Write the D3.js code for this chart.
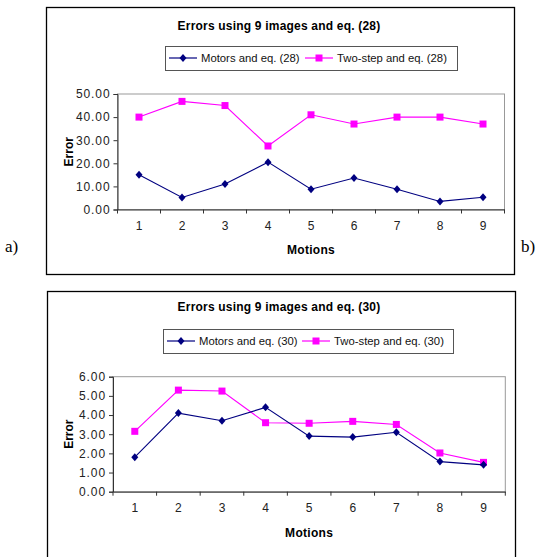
<!DOCTYPE html>
<html><head><meta charset="utf-8">
<script src="https://cdn.jsdelivr.net/npm/d3@7"></script>
<style>body{margin:0;background:#fff;}svg{display:block;}</style>
</head><body>
<svg id="c" width="553" height="557"></svg>
<script>
const motions = [1,2,3,4,5,6,7,8,9];
const yTicksA = [0,10,20,30,40,50];
const yTicksB = [0,1,2,3,4,5,6];
const motors28 = [15.0,5.2,11.0,20.5,8.8,13.6,8.8,3.5,5.3];
const twostep28 = [40.0,46.8,45.0,27.5,41.0,37.0,40.0,40.0,37.0];
const motors30 = [1.8,4.1,3.7,4.4,2.9,2.85,3.1,1.57,1.4];
const twostep30 = [3.15,5.3,5.25,3.6,3.57,3.67,3.51,2.02,1.53];

const svg = d3.select('#c');
const NAVY = '#000080', MAG = '#ff00ff';
const FF = 'Arial, Liberation Sans, sans-serif';

function chart(o){
  const g = svg.append('g');
  g.append('rect').attr('x',o.box[0]+0.5).attr('y',o.box[1]+0.5)
    .attr('width',o.box[2]-o.box[0]).attr('height',o.box[3]-o.box[1])
    .attr('fill','#fff').attr('stroke','#000').attr('stroke-width',1.3);
  g.append('text').attr('x',o.titleX).attr('y',o.titleY).attr('text-anchor','middle')
    .attr('font-family',FF).attr('font-weight','bold')
    .attr('font-size',12).attr('letter-spacing','0.2px').text(o.title);
  // legend
  const L = o.legend;
  g.append('rect').attr('x',L[0]+0.5).attr('y',L[1]+0.5).attr('width',L[2]-L[0]).attr('height',L[3]-L[1])
    .attr('fill','#fff').attr('stroke','#555').attr('stroke-width',1);
  const ly = (L[1]+L[3])/2;
  const items = [{c:NAVY,t:o.names[0],m:'d',x0:L[0]+4},{c:MAG,t:o.names[1],m:'s',x0:o.leg2x}];
  items.forEach(it=>{
    g.append('line').attr('x1',it.x0).attr('x2',it.x0+28).attr('y1',ly).attr('y2',ly).attr('stroke',it.c).attr('stroke-width',1.2);
    marker(g,it.x0+14,ly,it.m,it.c);
    g.append('text').attr('x',it.x0+32).attr('y',ly+4).attr('font-family',FF)
      .attr('font-size',11.3).attr('fill','#111').text(it.t);
  });
  const x = d3.scaleBand().domain(motions).range([o.plot[0],o.plot[2]]);
  const y = d3.scaleLinear().domain([0,o.ymax]).range([o.plot[3],o.plot[1]]);
  // plot area border
  g.append('rect').attr('x',o.plot[0]).attr('y',o.plot[1]).attr('width',o.plot[2]-o.plot[0]).attr('height',o.plot[3]-o.plot[1])
    .attr('fill','#fff').attr('stroke','#999').attr('stroke-width',1);
  // y axis
  const ya = g.append('g').attr('transform',`translate(${o.plot[0]},0)`)
    .call(d3.axisLeft(y).tickValues(o.yticks).tickSize(4).tickPadding(3).tickFormat(d3.format('.2f')));
  ya.select('.domain').attr('stroke','#333');
  ya.selectAll('.tick line').attr('stroke','#333');
  ya.selectAll('text').attr('font-family',FF).attr('font-size',12).attr('fill','#222')
    .attr('letter-spacing','0.9px');
  // x axis
  const xa = g.append('g').attr('transform',`translate(0,${o.plot[3]})`)
    .call(d3.axisBottom(x).tickSize(0).tickPadding(12));
  xa.select('.domain').attr('stroke','#333');
  xa.selectAll('text').attr('font-family',FF).attr('font-size',12).attr('fill','#222');
  const bounds = motions.map(m=>x(m)).concat([o.plot[2]]);
  xa.selectAll('.sep').data(bounds).enter().append('line').attr('class','sep')
    .attr('x1',d=>d).attr('x2',d=>d).attr('y1',0).attr('y2',4).attr('stroke','#333');
  // axis titles
  g.append('text').attr('transform',`translate(${o.yTitleX},${(o.plot[1]+o.plot[3])/2}) rotate(-90)`)
    .attr('text-anchor','middle').attr('font-family',FF).attr('font-weight','bold')
    .attr('font-size',12).text('Error');
  g.append('text').attr('x',(o.plot[0]+o.plot[2])/2).attr('y',o.xTitleY).attr('text-anchor','middle')
    .attr('font-family',FF).attr('font-weight','bold').attr('font-size',12).attr('letter-spacing','0.3px').text('Motions');
  // series
  const line = d3.line().x((d,i)=>x(motions[i])+x.bandwidth()/2).y(d=>y(d));
  [[o.s2,MAG,'s'],[o.s1,NAVY,'d']].forEach(([s,c,m])=>{
    g.append('path').attr('d',line(s)).attr('fill','none').attr('stroke',c).attr('stroke-width',1.1);
    s.forEach((v,i)=>marker(g,x(motions[i])+x.bandwidth()/2,y(v),m,c));
  });
}
function marker(g,cx,cy,m,c){
  if(m==='s') g.append('rect').attr('x',cx-3.5).attr('y',cy-3.5).attr('width',7).attr('height',7).attr('fill',c);
  else g.append('path').attr('d',`M${cx},${cy-4}L${cx+3.5},${cy}L${cx},${cy+4}L${cx-3.5},${cy}Z`).attr('fill',c);
}

chart({box:[46,7,514,274], title:'Errors using 9 images and eq. (28)', titleX:279, titleY:30,
  legend:[165,46,457,70], leg2x:305, names:['Motors and eq. (28)','Two-step and eq. (28)'],
  plot:[117.5,94,504.5,209.5], ymax:50, yticks:yTicksA, yTitleX:73, xTitleY:254,
  s1:motors28, s2:twostep28});
chart({box:[47,291,515,562], title:'Errors using 9 images and eq. (30)', titleX:279, titleY:311,
  legend:[163,329,453,353], leg2x:302, names:['Motors and eq. (30)','Two-step and eq. (30)'],
  plot:[113,376.7,505.3,491.7], ymax:6, yticks:yTicksB, yTitleX:73, xTitleY:537,
  s1:motors30, s2:twostep30});

svg.append('text').attr('x',5).attr('y',252).attr('font-family','Liberation Serif, Times New Roman, serif').attr('font-size',17).text('a)');
svg.append('text').attr('x',521).attr('y',252).attr('font-family','Liberation Serif, Times New Roman, serif').attr('font-size',17).text('b)');
</script>
</body></html>
